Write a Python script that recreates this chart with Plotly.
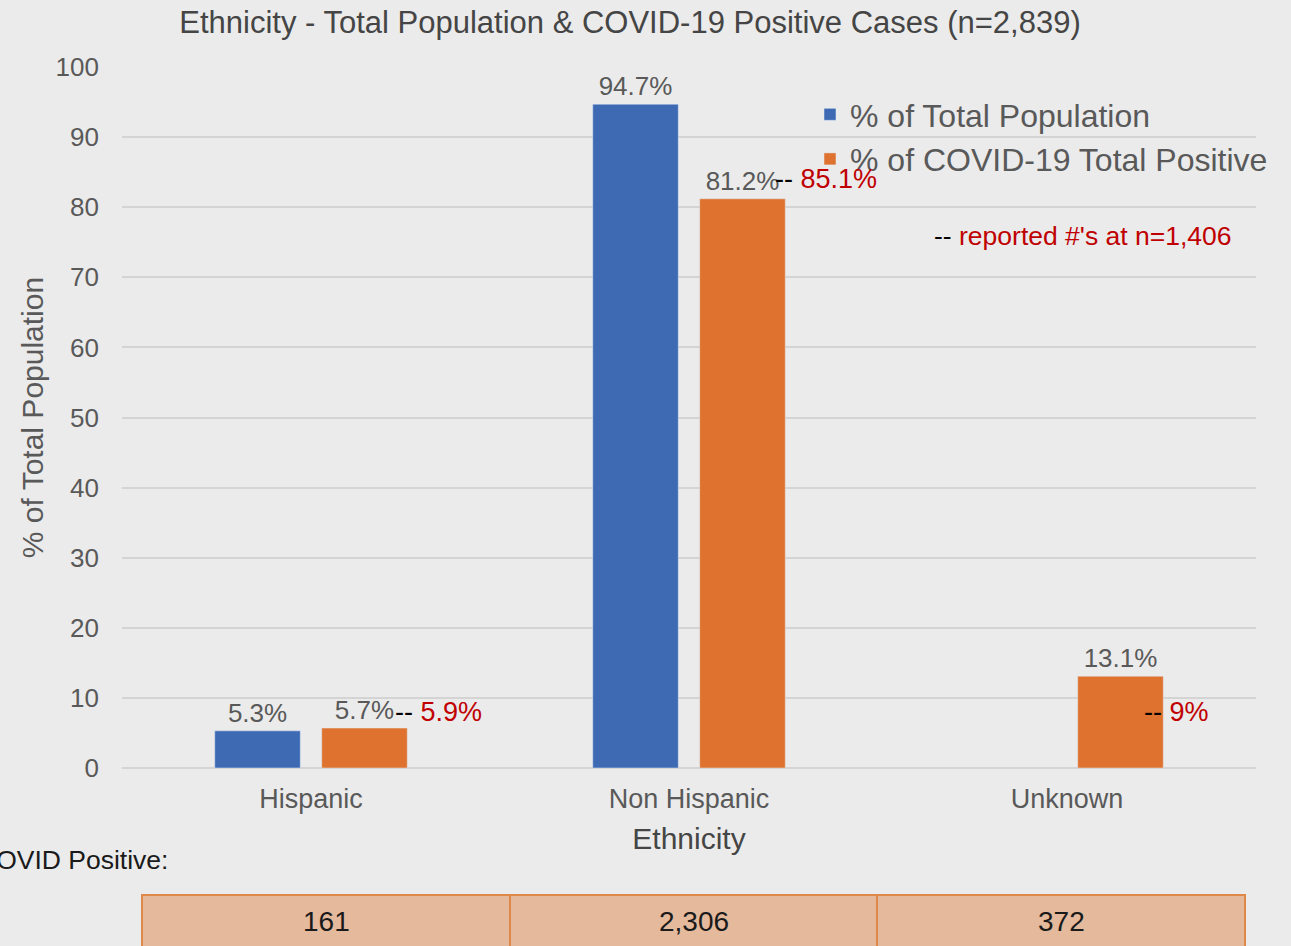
import plotly.graph_objects as go

categories = ["Hispanic", "Non Hispanic", "Unknown"]
pct_total_population = [5.3, 94.7, None]
pct_covid_positive = [5.7, 81.2, 13.1]
reported_at_1406 = [5.9, 85.1, 9]
covid_positive_counts = ["161", "2,306", "372"]
y_ticks = [0, 10, 20, 30, 40, 50, 60, 70, 80, 90, 100]

FONT = "Liberation Sans, Arial, sans-serif"
GRAY = "#595959"
DARK = "#454545"
BLUE = "#3e6ab4"
ORANGE = "#de722e"
RED = "#c00000"

fig = go.Figure()
fig.add_trace(go.Bar(
    x=categories, y=pct_total_population, name="% of Total Population",
    marker=dict(color=BLUE),
    text=[f"{v}%" if v is not None else "" for v in pct_total_population],
    textposition="outside", cliponaxis=False,
    textfont=dict(size=26, color=GRAY, family=FONT),
))
fig.add_trace(go.Bar(
    x=categories, y=pct_covid_positive, name="% of COVID-19 Total Positive",
    marker=dict(color=ORANGE),
    text=[f"{v}%" for v in pct_covid_positive],
    textposition="outside", cliponaxis=False,
    textfont=dict(size=26, color=GRAY, family=FONT),
))

annotations = []
label_y = [8, 84, 8]
xshifts = [82, 84, 75]
for cat, val, ly, xs in zip(categories, reported_at_1406, label_y, xshifts):
    annotations.append(dict(
        x=cat, y=ly, xref="x", yref="y", xanchor="left", yanchor="middle",
        xshift=xs, showarrow=False,
        text=f"<span style='color:black'>--</span> {val}%",
        font=dict(size=27, color=RED, family=FONT),
    ))

annotations.append(dict(
    x=(932 - 122) / 1134, y=(768 - 236) / 701, xref="paper", yref="paper",
    xanchor="left", yanchor="middle", showarrow=False,
    text="<span style='color:black'>--</span> reported #'s at n=1,406",
    font=dict(size=26.5, color=RED, family=FONT),
))

annotations.append(dict(
    x=(170 - 122) / 1134, y=(768 - 860) / 701, xref="paper", yref="paper",
    xanchor="right", yanchor="middle", showarrow=False,
    text="COVID Positive:",
    font=dict(size=26.5, color="#1a1a1a", family=FONT),
))

# table below the chart
cell_edges_px = [142, 510, 877, 1245]
shapes = []
y_top = (768 - 895) / 701
y_bot = (768 - 960) / 701
for i, count in enumerate(covid_positive_counts):
    x0 = (cell_edges_px[i] - 122) / 1134
    x1 = (cell_edges_px[i + 1] - 122) / 1134
    shapes.append(dict(type="rect", xref="paper", yref="paper",
                       x0=x0, x1=x1, y0=y_bot, y1=y_top,
                       fillcolor="#e4b99c", line=dict(color="#e0884a", width=2),
                       layer="above"))
    annotations.append(dict(
        x=(x0 + x1) / 2, y=(768 - 921) / 701, xref="paper", yref="paper",
        xanchor="center", yanchor="middle", showarrow=False, text=count,
        font=dict(size=28, color="#1a1a1a", family=FONT),
    ))

fig.update_layout(
    width=1291, height=946,
    margin=dict(l=122, r=35, t=67, b=178),
    paper_bgcolor="#ebebeb", plot_bgcolor="#ebebeb",
    font=dict(family=FONT, color=GRAY),
    title=dict(text="Ethnicity - Total Population & COVID-19 Positive Cases (n=2,839)",
               x=630 / 1291, xanchor="center", y=1 - 22 / 946, yanchor="middle",
               font=dict(size=31, color=DARK, family=FONT)),
    barmode="group", bargap=0.434, bargroupgap=0.2,
    showlegend=True,
    legend=dict(x=(810 - 122) / 1134, y=(768 - 87) / 701, xanchor="left", yanchor="top",
                bgcolor="rgba(0,0,0,0)", font=dict(size=32, color=GRAY, family=FONT),
                itemwidth=30),
    xaxis=dict(title=dict(text="Ethnicity", font=dict(size=30, color=DARK), standoff=14),
               tickfont=dict(size=27, color=GRAY), showgrid=False,
               showline=False, ticks="", ticklabelstandoff=12),
    yaxis=dict(title=dict(text="% of Total Population", font=dict(size=30, color=GRAY), standoff=3),
               range=[0, 100], tickvals=y_ticks, tickfont=dict(size=26, color=GRAY),
               showgrid=True, gridcolor="#d4d4d4", gridwidth=2,
               zeroline=True, zerolinecolor="#d4d4d4", zerolinewidth=2,
               ticklabelstandoff=22),
    annotations=annotations, shapes=shapes,
)

fig.write_html("out.html", config={"displayModeBar": False},
               post_script="document.body.style.margin='0px';")
